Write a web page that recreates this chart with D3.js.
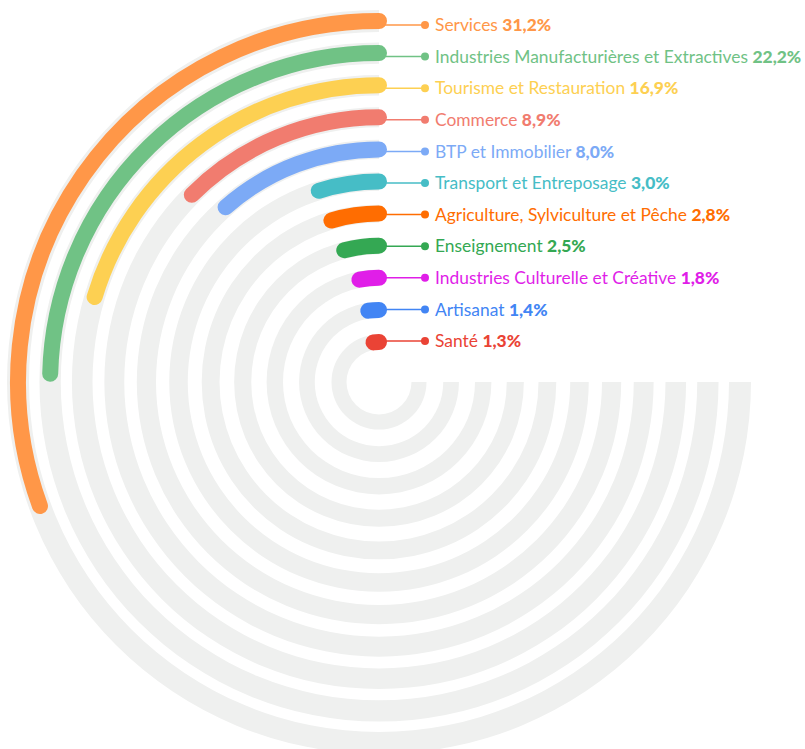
<!DOCTYPE html>
<html>
<head>
<meta charset="utf-8">
<script src="https://cdn.jsdelivr.net/npm/d3@7"></script>
<style>
  body { margin: 0; background: #fff; }
  svg { display: block; }
  .label { font-family: Lato, "Open Sans", sans-serif; font-size: 17.4px; }
  .label .val { font-weight: 900; }
</style>
</head>
<body>
<div id="chart"></div>
<script>
// ===========
// Data
// ===========

var categories = [
    'Services',
    'Industries Manufacturières et Extractives',
    'Tourisme et Restauration',
    'Commerce',
    'BTP et Immobilier',
    'Transport et Entreposage',
    'Agriculture, Sylviculture et Pêche',
    'Enseignement',
    'Industries Culturelle et Créative',
    'Artisanat',
    'Santé'
];
var values = [31.2, 22.2, 16.9, 8.9, 8.0, 3.0, 2.8, 2.5, 1.8, 1.4, 1.3];
var colors = ['#ff9748', '#70c285', '#fdd052', '#f17c6f', '#7caaf6', '#46bdc6',
              '#ff6d01', '#34a853', '#e01ee8', '#4285f4', '#ea4335'];

// ===========
// Chart
// ===========

var width = 805, height = 749;
var cx = 379, cy = 382;

var svg = d3.select('#chart').append('svg')
    .attr('width', width)
    .attr('height', height);

var g = svg.append('g').attr('transform', 'translate(' + cx + ',' + cy + ')');

// radius of each ring, outer = first category
var r_scale = d3.scalePoint()
    .domain(categories)
    .range([361, 40]);

// legend rows sit a little off the ring centres
var r_label = d3.scalePoint()
    .domain(categories)
    .range([357, 41]);

var track_width = d3.scaleLinear()
    .domain([40, 361])
    .range([15, 22]);

// symlog so the small sectors still get a visible bar
var angle_scale = d3.scaleSymlog()
    .constant(16)
    .domain([0, 100])
    .range([0, 1.12 * Math.PI]);

var rows = categories.map(function(c, i){
    return {name: c, value: values[i], color: colors[i]};
});

var track_arc = d3.arc()
    .innerRadius(function(d){ var r = r_scale(d.name); return r - track_width(r) / 2; })
    .outerRadius(function(d){ var r = r_scale(d.name); return r + track_width(r) / 2; })
    .startAngle(-1.5 * Math.PI)
    .endAngle(0);

g.selectAll('.track')
    .data(rows)
    .enter()
    .append('path')
    .attr('class', 'track')
    .attr('d', track_arc)
    .attr('fill', '#eff0ef');

function bar_path(d){
    var r = r_scale(d.name);
    var p = d3.path();
    p.moveTo(0, -r);
    p.arc(0, 0, r, -Math.PI / 2, -Math.PI / 2 - angle_scale(d.value), true);
    return p.toString();
}

// leader lines go under the bars
var dot_x = 425 - cx;
var text_x = 435 - cx;

g.selectAll('.leader')
    .data(rows)
    .enter()
    .append('line')
    .attr('class', 'leader')
    .attr('x1', 0)
    .attr('x2', dot_x)
    .attr('y1', function(d){ return -r_label(d.name); })
    .attr('y2', function(d){ return -r_label(d.name); })
    .attr('stroke', function(d){ return d.color; })
    .attr('stroke-width', 1.5);

g.selectAll('.dot')
    .data(rows)
    .enter()
    .append('circle')
    .attr('class', 'dot')
    .attr('cx', dot_x)
    .attr('cy', function(d){ return -r_label(d.name); })
    .attr('r', 4)
    .attr('fill', function(d){ return d.color; });

g.selectAll('.bar')
    .data(rows)
    .enter()
    .append('path')
    .attr('class', 'bar')
    .attr('d', bar_path)
    .attr('fill', 'none')
    .attr('stroke', function(d){ return d.color; })
    .attr('stroke-width', 16)
    .attr('stroke-linecap', 'round');

function fmt(v){
    return v.toFixed(1).replace('.', ',') + '%';
}

var labels = g.selectAll('.label')
    .data(rows)
    .enter()
    .append('text')
    .attr('class', 'label')
    .attr('x', text_x)
    .attr('y', function(d){ return -r_label(d.name); })
    .attr('dy', '0.35em')
    .attr('fill', function(d){ return d.color; });

labels.append('tspan').text(function(d){ return d.name + ' '; });
labels.append('tspan').attr('class', 'val').text(function(d){ return fmt(d.value); });
</script>
</body>
</html>
